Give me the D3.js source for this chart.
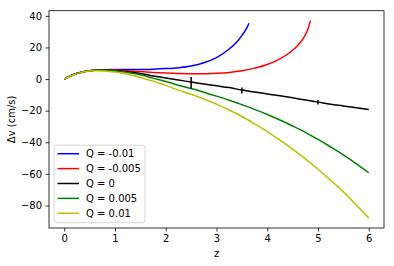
<!DOCTYPE html>
<html>
<head>
<meta charset="utf-8">
<script src="https://cdn.jsdelivr.net/npm/d3@7"></script>
<style>
  html, body { margin: 0; padding: 0; background: #fff; }
  svg { display: block; font-family: "DejaVu Sans", sans-serif; }
</style>
</head>
<body>
<div id="chart"></div>
<script>
// shared z grid for the model curves
const zGrid = [0, 0.1, 0.2, 0.3, 0.4, 0.5, 0.6, 0.8, 1.0, 1.25, 1.5, 1.75, 2.0, 2.25, 2.5,
  2.75, 3.0, 3.25, 3.5, 3.75, 4.0, 4.25, 4.5, 4.75, 5.0, 5.25, 5.5, 5.75, 6.0];

const zBlue = [0, 0.1, 0.2, 0.3, 0.4, 0.5, 0.6, 0.8, 1.0, 1.25, 1.5, 1.75, 2.0, 2.25, 2.5,
  2.75, 3.0, 3.25, 3.4, 3.5, 3.6, 3.64];
const vBlue = [0, 1.7, 3.0, 4.0, 4.8, 5.3, 5.6, 5.9, 6.0, 6.0, 6.0, 6.2, 6.6, 7.2, 8.3,
  10.3, 13.6, 19.0, 23.5, 27.5, 32.5, 35.3];

const zRed = [0, 0.1, 0.2, 0.3, 0.4, 0.5, 0.6, 0.8, 1.0, 1.25, 1.5, 1.75, 2.0, 2.25, 2.5,
  2.75, 3.0, 3.25, 3.5, 3.75, 4.0, 4.25, 4.5, 4.6, 4.7, 4.8, 4.85];
const vRed = [0, 1.7, 3.0, 4.0, 4.8, 5.3, 5.6, 5.8, 5.7, 5.3, 4.7, 4.2, 3.8, 3.5, 3.3,
  3.3, 3.6, 4.2, 5.2, 6.9, 9.2, 12.8, 18.2, 21.3, 25.3, 31.5, 37.0];

const vBlack = [0, 1.7, 3.0, 4.0, 4.8, 5.3, 5.6, 5.7, 5.3, 4.6, 3.5, 2.0, 0.7, -0.6, -1.9,
  -3.2, -4.3, -5.4, -7.0, -8.2, -9.4, -10.6, -11.9, -13.3, -14.6, -16.0, -17.0, -18.1, -19.2];
const vGreen = [0, 1.6, 2.9, 3.9, 4.7, 5.2, 5.5, 5.6, 5.1, 4.2, 2.7, 0.6, -1.5, -3.9, -6.0,
  -8.3, -10.8, -13.4, -16.2, -19.2, -22.4, -25.9, -29.7, -33.7, -38.2, -43.0, -48.0, -53.5, -59.3];
const vYellow = [0, 1.6, 2.9, 3.9, 4.6, 5.1, 5.3, 5.1, 4.4, 3.0, 1.0, -1.3, -4.0, -7.0, -9.6,
  -12.6, -15.9, -19.6, -23.7, -28.3, -33.2, -38.6, -44.3, -50.5, -57.1, -64.1, -71.4, -79.6, -88.0];

// black data points with vertical error bars
const zData = [2.5, 3.5, 5.0];
const vData = [-2.4, -7.2, -14.7];
const eData = [3.7, 1.9, 1.4];

const labels = ["Q = -0.01", "Q = -0.005", "Q = 0", "Q = 0.005", "Q = 0.01"];
const colors = ["#0000ff", "#ff0000", "#000000", "#008000", "#bfbf00"];
const xTicks = [0, 1, 2, 3, 4, 5, 6];
const yTicks = [-80, -60, -40, -20, 0, 20, 40];

const series = [
  { z: zBlue, v: vBlue },
  { z: zRed, v: vRed },
  { z: zGrid, v: vBlack },
  { z: zGrid, v: vGreen },
  { z: zGrid, v: vYellow }
].map((s, i) => ({
  label: labels[i],
  color: colors[i],
  pts: s.z.map((z, j) => [z, s.v[j]])
}));

const width = 394, height = 266;
const margin = { top: 10.7, right: 10, bottom: 38, left: 49 };
const innerW = width - margin.left - margin.right;
const innerH = height - margin.top - margin.bottom;

// matplotlib-style 5% margins
const allV = series.flatMap(s => s.pts.map(p => p[1]));
const vMin = d3.min(allV), vMax = d3.max(allV);
const vPad = (vMax - vMin) * 0.05;

const x = d3.scaleLinear().domain([-0.3, 6.3]).range([0, innerW]);
const y = d3.scaleLinear().domain([vMin - vPad, vMax + vPad]).range([innerH, 0]);

const svg = d3.select("#chart").append("svg")
  .attr("width", width)
  .attr("height", height);

const g = svg.append("g")
  .attr("transform", `translate(${margin.left},${margin.top})`);

const fmt = d => (d < 0 ? "\u2212" + Math.abs(d) : String(d));

// axes
const xAxis = g.append("g")
  .attr("transform", `translate(0,${innerH})`)
  .call(d3.axisBottom(x).tickValues(xTicks).tickFormat(fmt).tickSize(3.5).tickPadding(3.5));
const yAxis = g.append("g")
  .call(d3.axisLeft(y).tickValues(yTicks).tickFormat(fmt).tickSize(3.5).tickPadding(3.5));

[xAxis, yAxis].forEach(a => {
  a.select(".domain").remove();
  a.selectAll("text").attr("font-size", 10).attr("fill", "#000")
    .attr("font-family", "DejaVu Sans, sans-serif");
  a.selectAll("line").attr("stroke", "#000").attr("stroke-width", 0.8);
});

// lines
const line = d3.line()
  .x(d => x(d[0]))
  .y(d => y(d[1]))
  .curve(d3.curveMonotoneX);

g.selectAll("path.series")
  .data(series)
  .enter()
  .append("path")
  .attr("class", "series")
  .attr("d", d => line(d.pts))
  .attr("fill", "none")
  .attr("stroke", d => d.color)
  .attr("stroke-width", 1.5);

// error bars
g.selectAll("line.err")
  .data(zData)
  .enter()
  .append("line")
  .attr("class", "err")
  .attr("x1", d => x(d))
  .attr("x2", d => x(d))
  .attr("y1", (d, i) => y(vData[i] + eData[i]))
  .attr("y2", (d, i) => y(vData[i] - eData[i]))
  .attr("stroke", "#000")
  .attr("stroke-width", 1.5);

// frame
g.append("rect")
  .attr("width", innerW)
  .attr("height", innerH)
  .attr("fill", "none")
  .attr("stroke", "#000")
  .attr("stroke-width", 0.8);

// axis labels
svg.append("text")
  .attr("x", margin.left + innerW / 2)
  .attr("y", 257)
  .attr("text-anchor", "middle")
  .attr("font-size", 10)
  .text("z");

svg.append("text")
  .attr("transform", `translate(15,${margin.top + innerH / 2}) rotate(-90)`)
  .attr("text-anchor", "middle")
  .attr("font-size", 10)
  .text("\u0394v (cm/s)");

// legend
const leg = g.append("g").attr("transform", "translate(5,134.5)");
leg.append("rect")
  .attr("width", 91)
  .attr("height", 77.5)
  .attr("rx", 2.5)
  .attr("fill", "#fff")
  .attr("fill-opacity", 0.8)
  .attr("stroke", "#ccc")
  .attr("stroke-width", 0.8);

const item = leg.selectAll("g.item")
  .data(series)
  .enter()
  .append("g")
  .attr("class", "item")
  .attr("transform", (d, i) => `translate(0,${8.5 + i * 14.9})`);

item.append("line")
  .attr("x1", 3.5).attr("x2", 25)
  .attr("stroke", d => d.color)
  .attr("stroke-width", 1.5);

item.append("text")
  .attr("x", 32)
  .attr("dy", "0.35em")
  .attr("font-size", 10)
  .text(d => d.label);
</script>
</body>
</html>
